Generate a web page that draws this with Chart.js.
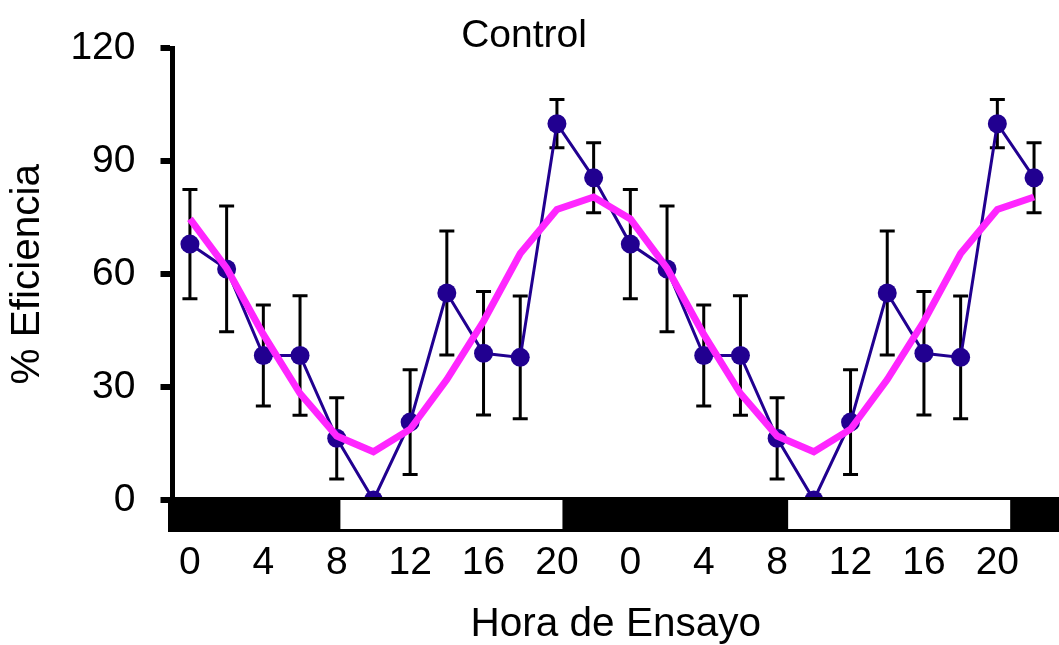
<!DOCTYPE html>
<html>
<head>
<meta charset="utf-8">
<title>Control</title>
<script src="https://cdn.jsdelivr.net/npm/chart.js@4.4.1/dist/chart.umd.min.js"></script>
<style>
  body { margin: 0; background: #fff; }
  canvas { display: block; }
</style>
</head>
<body>
<canvas id="chart" width="1059" height="645"></canvas>
<script>
// Hours of the assay (two days plotted back to back)
const hours = [0, 2, 4, 6, 8, 10, 12, 14, 16, 18, 20, 22,
               24, 26, 28, 30, 32, 34, 36, 38, 40, 42, 44, 46];

// Mean efficiency (%) and its error
const efficiency = [68, 61.4, 38.4, 38.4, 16.4, 0, 20.7, 55, 39, 37.9, 100, 85.6,
                    68, 61.4, 38.4, 38.4, 16.4, 0, 20.7, 55, 39, 37.9, 100, 85.6];
const errors = [14.5, 16.7, 13.4, 15.9, 10.8, 0, 13.9, 16.5, 16.4, 16.3, 6.4, 9.3,
                14.5, 16.7, 13.4, 15.9, 10.8, 0, 13.9, 16.5, 16.4, 16.3, 6.4, 9.3];

// Cosinor fit
const fit = [74.7, 61.6, 44, 28.3, 17, 12.8, 18.8, 32, 47.5, 65.5, 77.2, 80.5,
             74.7, 61.6, 44, 28.3, 17, 12.8, 18.8, 32, 47.5, 65.5, 77.2, 80.5];

// Axis ticks
const xTickValues = [0, 4, 8, 12, 16, 20, 24, 28, 32, 36, 40, 44];
const xTickLabels = ['0', '4', '8', '12', '16', '20', '0', '4', '8', '12', '16', '20'];
const yTickValues = [0, 30, 60, 90, 120];

// Light phase (white boxes) in the light/dark bar, in hours
const lightStart = [8.2, 32.6];
const lightEnd = [20.3, 44.7];

const FONT = "'Liberation Sans', Arial, sans-serif";
const BLUE = '#210090';
const MAGENTA = '#ff26ff';

// Error bars under the points
const errorBars = {
    id: 'errorBars',
    beforeDatasetsDraw(chart) {
        const { ctx, scales: { x, y } } = chart;
        ctx.save();
        ctx.strokeStyle = '#000';
        ctx.lineWidth = 3;
        hours.forEach((h, i) => {
            if (!errors[i]) return;
            const px = x.getPixelForValue(h);
            const top = y.getPixelForValue(efficiency[i] + errors[i]);
            const bottom = y.getPixelForValue(efficiency[i] - errors[i]);
            ctx.beginPath();
            ctx.moveTo(px, top);
            ctx.lineTo(px, bottom);
            ctx.moveTo(px - 7.5, top);
            ctx.lineTo(px + 7.5, top);
            ctx.moveTo(px - 7.5, bottom);
            ctx.lineTo(px + 7.5, bottom);
            ctx.stroke();
        });
        ctx.restore();
    }
};

// Light/dark bar along the x axis
const photoBar = {
    id: 'photoBar',
    afterDatasetsDraw(chart) {
        const { ctx, chartArea, scales: { x, y } } = chart;
        const top = y.getPixelForValue(0) - 3;
        ctx.save();
        ctx.fillStyle = '#000';
        ctx.fillRect(chartArea.left - 4.5, top, chart.width - chartArea.left + 4.5, 35);
        ctx.fillStyle = '#fff';
        lightStart.forEach((s, i) => {
            const x1 = x.getPixelForValue(s);
            const x2 = x.getPixelForValue(lightEnd[i]);
            ctx.fillRect(x1, top + 3, x2 - x1, 29);
        });
        ctx.restore();
    }
};

// Heading above the plot
const heading = {
    id: 'heading',
    afterDraw(chart) {
        const { ctx } = chart;
        ctx.save();
        ctx.fillStyle = '#000';
        ctx.font = '39px ' + FONT;
        ctx.textAlign = 'center';
        ctx.textBaseline = 'alphabetic';
        ctx.fillText('Control', 524, 47);
        ctx.restore();
    }
};

new Chart(document.getElementById('chart'), {
    type: 'line',
    data: {
        datasets: [
            {
                label: 'Ajuste',
                data: hours.map((h, i) => ({ x: h, y: fit[i] })),
                borderColor: MAGENTA,
                borderWidth: 7,
                pointRadius: 0,
                tension: 0,
                order: 0
            },
            {
                label: 'Control',
                data: hours.map((h, i) => ({ x: h, y: efficiency[i] })),
                borderColor: BLUE,
                backgroundColor: BLUE,
                borderWidth: 3,
                pointRadius: 9.5,
                pointBorderWidth: 0,
                pointBackgroundColor: BLUE,
                tension: 0,
                clip: false,
                order: 1
            }
        ]
    },
    options: {
        responsive: false,
        animation: false,
        layout: {
            autoPadding: false,
            padding: { top: 47, left: 0, right: 0, bottom: 0 }
        },
        plugins: {
            legend: { display: false },
            tooltip: { enabled: false }
        },
        scales: {
            x: {
                type: 'linear',
                min: -0.95,
                max: 47.36,
                afterBuildTicks: scale => {
                    scale.ticks = xTickValues.map(v => ({ value: v }));
                },
                afterFit: scale => {
                    scale.height = 145;
                    scale.paddingLeft = 0;
                    scale.paddingRight = 0;
                },
                grid: { display: false, drawTicks: false },
                border: { display: false },
                ticks: {
                    color: '#000',
                    padding: 40,
                    maxRotation: 0,
                    autoSkip: false,
                    font: { family: FONT, size: 39 },
                    callback: value => xTickLabels[xTickValues.indexOf(value)]
                },
                title: {
                    display: true,
                    text: 'Hora de Ensayo',
                    color: '#000',
                    font: { family: FONT, size: 40.5, lineHeight: 1 },
                    padding: { top: 0, bottom: 0 }
                }
            },
            y: {
                min: 0,
                max: 120,
                afterBuildTicks: scale => {
                    scale.ticks = yTickValues.map(v => ({ value: v }));
                },
                afterFit: scale => { scale.width = 172.5; },
                grid: {
                    drawOnChartArea: false,
                    drawTicks: true,
                    tickLength: 12,
                    lineWidth: 6,
                    color: '#000'
                },
                border: { display: true, width: 5, color: '#000' },
                ticks: {
                    color: '#000',
                    padding: 25,
                    font: { family: FONT, size: 39 }
                },
                title: {
                    display: true,
                    text: '% Eficiencia',
                    color: '#000',
                    font: { family: FONT, size: 40.5, lineHeight: 1 },
                    padding: { top: 8, bottom: 0 }
                }
            }
        }
    },
    plugins: [errorBars, photoBar, heading]
});
</script>
</body>
</html>
